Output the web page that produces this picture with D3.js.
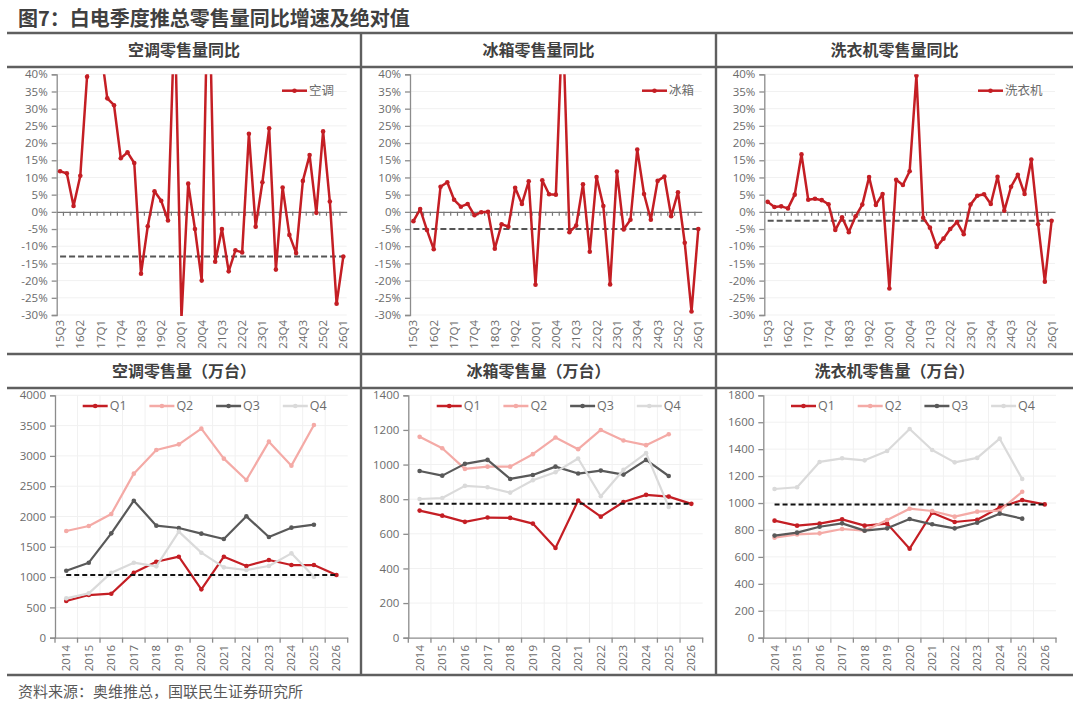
<!DOCTYPE html>
<html>
<head>
<meta charset="utf-8">
<script src="https://cdn.jsdelivr.net/npm/d3@7"></script>
<style>
  body { margin: 0; background: #fff; }
  svg { display: block; font-family: "Noto Sans CJK SC", "Noto Sans", sans-serif; }
</style>
</head>
<body>
<div id="chart"></div>
<script>
// ---- data ----
const quarters = ["15Q3","15Q4","16Q1","16Q2","16Q3","16Q4","17Q1","17Q2","17Q3","17Q4",
  "18Q1","18Q2","18Q3","18Q4","19Q1","19Q2","19Q3","19Q4","20Q1","20Q2","20Q3","20Q4",
  "21Q1","21Q2","21Q3","21Q4","22Q1","22Q2","22Q3","22Q4","23Q1","23Q2","23Q3","23Q4",
  "24Q1","24Q2","24Q3","24Q4","25Q1","25Q2","25Q3","25Q4","26Q1"];

// YoY growth, %
const acYoy = [11.8, 11.2, 1.7, 10.5, 39.3, 50, 48, 33, 31, 15.6, 17.3, 14.2, -18, -4.2, 6, 3.2,
  -2.5, 58, -31, 8.2, -5, -20, 75, -14.5, -5, -17.3, -11.2, -11.8, 22.7, -4.3, 8.6, 24.3,
  -16.8, 7.1, -6.7, -12, 9, 16.5, -0.3, 23.4, 3, -26.7, -13];
const fridgeYoy = [-2.7, 0.8, -5.3, -10.9, 7.3, 8.6, 3.5, 1.5, 2.3, -1, -0.1, 0, -10.7, -3.6,
  -4.3, 7, 2.3, 8.9, -21.2, 9.2, 5.1, 5, 57, -5.9, -4, 8, -11.6, 10.1, 1.7, -21.1, 11.7,
  -5.1, -2.3, 18.1, 5.2, -2.3, 9, 10.3, -1.3, 5.7, -9, -29, -5];
const washerYoy = [2.9, 1.4, 1.6, 1.0, 5, 16.7, 3.5, 3.8, 3.4, 2.2, -5.3, -1.6, -5.9, -1.3,
  2.1, 10.1, 2.0, 5.2, -22.3, 9.3, 7.8, 11.8, 39.6, -1.7, -4.6, -10.2, -7.8, -5, -3, -6.5,
  2.1, 4.7, 5.1, 2.3, 10.2, 0.3, 7.3, 10.8, 5.2, 15.2, -3.6, -20.3, -2.6];
const yoyTicks = [-30, -25, -20, -15, -10, -5, 0, 5, 10, 15, 20, 25, 30, 35, 40];

const years = ["2014","2015","2016","2017","2018","2019","2020","2021","2022","2023","2024","2025","2026"];
const seriesNames = ["Q1", "Q2", "Q3", "Q4"];

// retail volume, 万台
const acQ1 = [605, 704, 726, 1073, 1254, 1337, 798, 1337, 1183, 1282, 1199, 1199, 1034];
const acQ2 = [1761, 1843, 2041, 2707, 3098, 3191, 3450, 2955, 2602, 3235, 2839, 3510];
const acQ3 = [1106, 1238, 1722, 2261, 1849, 1810, 1717, 1629, 2003, 1662, 1816, 1865];
const acQ4 = [649, 732, 1073, 1238, 1177, 1750, 1403, 1161, 1117, 1183, 1392, 1007];

const fridgeQ1 = [734, 705, 669, 694, 692, 659, 518, 792, 699, 784, 825, 815, 773];
const fridgeQ2 = [1160, 1094, 975, 988, 988, 1060, 1156, 1089, 1200, 1139, 1112, 1175];
const fridgeQ3 = [963, 936, 1004, 1027, 917, 940, 988, 948, 965, 942, 1027, 934];
const fridgeQ4 = [801, 807, 877, 869, 838, 909, 956, 1035, 817, 969, 1066, 755];

const washerQ1 = [869, 832, 847, 879, 832, 847, 661, 928, 859, 876, 968, 1022, 990];
const washerQ2 = [743, 767, 775, 807, 795, 874, 958, 941, 899, 936, 943, 1084];
const washerQ3 = [758, 780, 824, 849, 795, 812, 881, 842, 812, 854, 921, 884];
const washerQ4 = [1104, 1117, 1305, 1332, 1317, 1386, 1550, 1394, 1302, 1335, 1478, 1178];

const acTicks = [0, 500, 1000, 1500, 2000, 2500, 3000, 3500, 4000];
const fridgeTicks = [0, 200, 400, 600, 800, 1000, 1200, 1400];
const washerTicks = [0, 200, 400, 600, 800, 1000, 1200, 1400, 1600, 1800];

// ---- styles ----
const RED = "#c41e24";
const seriesColors = [RED, "#f4aaa6", "#595959", "#dadada"];
const frameColor = "#5f5f5f";
const axisColor = "#8c8c8c";
const textColor = "#6b6b6b";
const gridColor = "#f1f1f1";
const numFont = "'Open Sans', 'Noto Sans', sans-serif";

const W = 1080, H = 703;
const svg = d3.select("#chart").append("svg").attr("width", W).attr("height", H);
svg.append("rect").attr("width", W).attr("height", H).attr("fill", "#fff");

// title + frame
svg.append("text").attr("x", 18).attr("y", 26)
  .attr("font-size", 20).attr("font-weight", "bold").attr("fill", "#404040")
  .text("图7：白电季度推总零售量同比增速及绝对值");

const frame = svg.append("g").attr("stroke", frameColor).attr("stroke-width", 2.4);
[33, 67, 354, 388, 675].forEach((y) => {
  frame.append("line").attr("x1", 7).attr("x2", 1073).attr("y1", y).attr("y2", y);
});
[361, 716].forEach((x) => {
  frame.append("line").attr("x1", x).attr("x2", x).attr("y1", 33).attr("y2", 675);
});

svg.append("text").attr("x", 18).attr("y", 697)
  .attr("font-size", 15).attr("fill", "#595959")
  .text("资料来源：奥维推总，国联民生证券研究所");

const panelCenters = [184, 538.5, 894.5];
const topTitles = ["空调零售量同比", "冰箱零售量同比", "洗衣机零售量同比"];
const botTitles = ["空调零售量（万台）", "冰箱零售量（万台）", "洗衣机零售量（万台）"];
topTitles.forEach((t, i) => {
  svg.append("text").attr("x", panelCenters[i]).attr("y", 50).attr("dy", "0.35em")
    .attr("text-anchor", "middle").attr("font-size", 16).attr("font-weight", "bold")
    .attr("fill", "#404040").text(t);
});
botTitles.forEach((t, i) => {
  svg.append("text").attr("x", panelCenters[i]).attr("y", 371).attr("dy", "0.35em")
    .attr("text-anchor", "middle").attr("font-size", 16).attr("font-weight", "bold")
    .attr("fill", "#404040").text(t);
});

// ---- top row: YoY charts ----
const topPanels = [
  { x0: 56.7, x1: 346.7, name: "空调", values: acYoy, legendX: 282 },
  { x0: 410, x1: 701.7, name: "冰箱", values: fridgeYoy, legendX: 642 },
  { x0: 764.3, x1: 1055, name: "洗衣机", values: washerYoy, legendX: 978 },
];

function drawYoy(p, idx) {
  const g = svg.append("g");
  const x = d3.scaleBand().domain(quarters).range([p.x0, p.x1]).padding(0);
  const y = d3.scaleLinear().domain([-30, 40]).range([315, 74.3]);
  const cx = (d) => x(d) + x.bandwidth() / 2;

  // grid
  g.append("g").selectAll("line").data(yoyTicks.filter((t) => t !== 0)).join("line")
    .attr("x1", p.x0).attr("x2", p.x1)
    .attr("y1", (d) => y(d)).attr("y2", (d) => y(d))
    .attr("stroke", gridColor);

  // y axis
  const yAxis = g.append("g").attr("transform", `translate(${p.x0},0)`)
    .call(d3.axisLeft(y).tickValues(yoyTicks).tickSize(5).tickPadding(4)
      .tickFormat((d) => d + "%"));
  yAxis.select(".domain").attr("stroke", axisColor).attr("stroke-width", 1.3);
  yAxis.selectAll(".tick line").attr("stroke", axisColor).attr("stroke-width", 1.3);
  yAxis.selectAll("text").attr("fill", textColor).attr("font-size", 11.5)
    .attr("font-family", numFont);

  // zero axis with band ticks
  const xAxis = g.append("g").attr("transform", `translate(0,${y(0)})`)
    .call(d3.axisBottom(x).tickSize(0).tickFormat(""));
  xAxis.select(".domain").attr("stroke", "#777").attr("stroke-width", 1.3);
  g.append("g").selectAll("line").data(quarters.slice(1)).join("line")
    .attr("x1", (d) => x(d)).attr("x2", (d) => x(d))
    .attr("y1", y(0)).attr("y2", y(0) + 4)
    .attr("stroke", "#777").attr("stroke-width", 1.2);

  // tick labels at bottom
  g.append("g").selectAll("text").data(quarters.filter((d, i) => i % 3 === 0)).join("text")
    .attr("transform", (d) => `translate(${cx(d)},320) rotate(-90)`)
    .attr("dy", "0.35em").attr("text-anchor", "end")
    .attr("font-size", 11.5).attr("fill", textColor)
    .attr("font-family", numFont)
    .text((d) => d);

  // reference dashed line at latest value
  const last = p.values[p.values.length - 1];
  g.append("line")
    .attr("x1", cx(quarters[0])).attr("x2", cx(quarters[quarters.length - 1]))
    .attr("y1", y(last)).attr("y2", y(last))
    .attr("stroke", "#555").attr("stroke-width", 2).attr("stroke-dasharray", "6,3");

  // line, clipped to plot area
  const clipId = "clip-top-" + idx;
  svg.append("clipPath").attr("id", clipId).append("rect")
    .attr("x", p.x0).attr("y", y(40)).attr("width", p.x1 - p.x0).attr("height", y(-30) - y(40) + 1);
  const plot = g.append("g").attr("clip-path", `url(#${clipId})`);
  const line = d3.line().x((d, i) => cx(quarters[i])).y((d) => y(d));
  plot.append("path").datum(p.values).attr("d", line)
    .attr("fill", "none").attr("stroke", RED).attr("stroke-width", 2.5)
    .attr("stroke-linejoin", "round");
  plot.selectAll("circle").data(p.values).join("circle")
    .attr("cx", (d, i) => cx(quarters[i])).attr("cy", (d) => y(d)).attr("r", 2.3)
    .attr("fill", RED);

  // legend
  const lg = g.append("g").attr("transform", `translate(${p.legendX},90.7)`);
  lg.append("line").attr("x1", 0).attr("x2", 25).attr("stroke", RED).attr("stroke-width", 2.5);
  lg.append("circle").attr("cx", 12.5).attr("r", 2.3).attr("fill", RED);
  lg.append("text").attr("x", 27).attr("dy", "0.35em").attr("font-size", 12.5)
    .attr("fill", textColor).text(p.name);
}
topPanels.forEach(drawYoy);

// ---- bottom row: absolute volume ----
const botPanels = [
  { x0: 55, x1: 347.7, series: [acQ1, acQ2, acQ3, acQ4], ticks: acTicks, legendX: 82.7 },
  { x0: 408.3, x1: 702.7, series: [fridgeQ1, fridgeQ2, fridgeQ3, fridgeQ4], ticks: fridgeTicks, legendX: 436.7 },
  { x0: 763.3, x1: 1056, series: [washerQ1, washerQ2, washerQ3, washerQ4], ticks: washerTicks, legendX: 791 },
];

function drawAbs(p) {
  const g = svg.append("g");
  const x = d3.scaleBand().domain(years).range([p.x0, p.x1]).padding(0);
  const yMax = p.ticks[p.ticks.length - 1];
  const y = d3.scaleLinear().domain([0, yMax]).range([637.7, 395.3]);
  const cx = (d) => x(d) + x.bandwidth() / 2;

  // grid
  g.append("g").selectAll("line").data(p.ticks.slice(1)).join("line")
    .attr("x1", p.x0).attr("x2", p.x1)
    .attr("y1", (d) => y(d)).attr("y2", (d) => y(d))
    .attr("stroke", gridColor);
  g.append("g").selectAll("line").data(years.slice(1)).join("line")
    .attr("x1", (d) => x(d)).attr("x2", (d) => x(d))
    .attr("y1", y(yMax)).attr("y2", y(0))
    .attr("stroke", gridColor);

  // axes
  const yAxis = g.append("g").attr("transform", `translate(${p.x0},0)`)
    .call(d3.axisLeft(y).tickValues(p.ticks).tickSize(5).tickPadding(4)
      .tickFormat(d3.format("d")));
  yAxis.select(".domain").attr("stroke", axisColor).attr("stroke-width", 1.3);
  yAxis.selectAll(".tick line").attr("stroke", axisColor).attr("stroke-width", 1.3);
  yAxis.selectAll("text").attr("fill", textColor).attr("font-size", 11.5)
    .attr("font-family", numFont);

  const xAxis = g.append("g").attr("transform", `translate(0,${y(0)})`)
    .call(d3.axisBottom(x).tickSize(0).tickFormat(""));
  xAxis.select(".domain").attr("stroke", axisColor).attr("stroke-width", 1.3);
  g.append("g").selectAll("line").data(years.concat(["end"])).join("line")
    .attr("x1", (d) => (d === "end" ? p.x1 : x(d))).attr("x2", (d) => (d === "end" ? p.x1 : x(d)))
    .attr("y1", y(0)).attr("y2", y(0) + 5)
    .attr("stroke", axisColor).attr("stroke-width", 1.3);

  g.append("g").selectAll("text").data(years).join("text")
    .attr("transform", (d) => `translate(${cx(d)},645) rotate(-90)`)
    .attr("dy", "0.35em").attr("text-anchor", "end")
    .attr("font-size", 11.5).attr("fill", textColor)
    .attr("font-family", numFont)
    .text((d) => d);

  // series
  const line = d3.line().x((d, i) => cx(years[i])).y((d) => y(d));
  p.series.forEach((vals, k) => {
    const c = seriesColors[k];
    g.append("path").datum(vals).attr("d", line)
      .attr("fill", "none").attr("stroke", c).attr("stroke-width", 2.2)
      .attr("stroke-linejoin", "round");
    g.append("g").selectAll("circle").data(vals).join("circle")
      .attr("cx", (d, i) => cx(years[i])).attr("cy", (d) => y(d)).attr("r", 2.3)
      .attr("fill", c);
  });

  // dashed reference at latest Q1 value
  const q1 = p.series[0];
  const last = q1[q1.length - 1];
  g.append("line")
    .attr("x1", cx(years[0])).attr("x2", cx(years[years.length - 1]))
    .attr("y1", y(last)).attr("y2", y(last))
    .attr("stroke", "#111").attr("stroke-width", 2).attr("stroke-dasharray", "5,3");

  // legend
  seriesNames.forEach((name, k) => {
    const lg = g.append("g").attr("transform", `translate(${p.legendX + k * 66.7},406)`);
    lg.append("line").attr("x1", 0).attr("x2", 25)
      .attr("stroke", seriesColors[k]).attr("stroke-width", 2.5);
    lg.append("circle").attr("cx", 12.5).attr("r", 2.3).attr("fill", seriesColors[k]);
    lg.append("text").attr("x", 27).attr("dy", "0.35em").attr("font-size", 12.5)
      .attr("fill", textColor)
      .attr("font-family", numFont).text(name);
  });
}
botPanels.forEach(drawAbs);
</script>
</body>
</html>
